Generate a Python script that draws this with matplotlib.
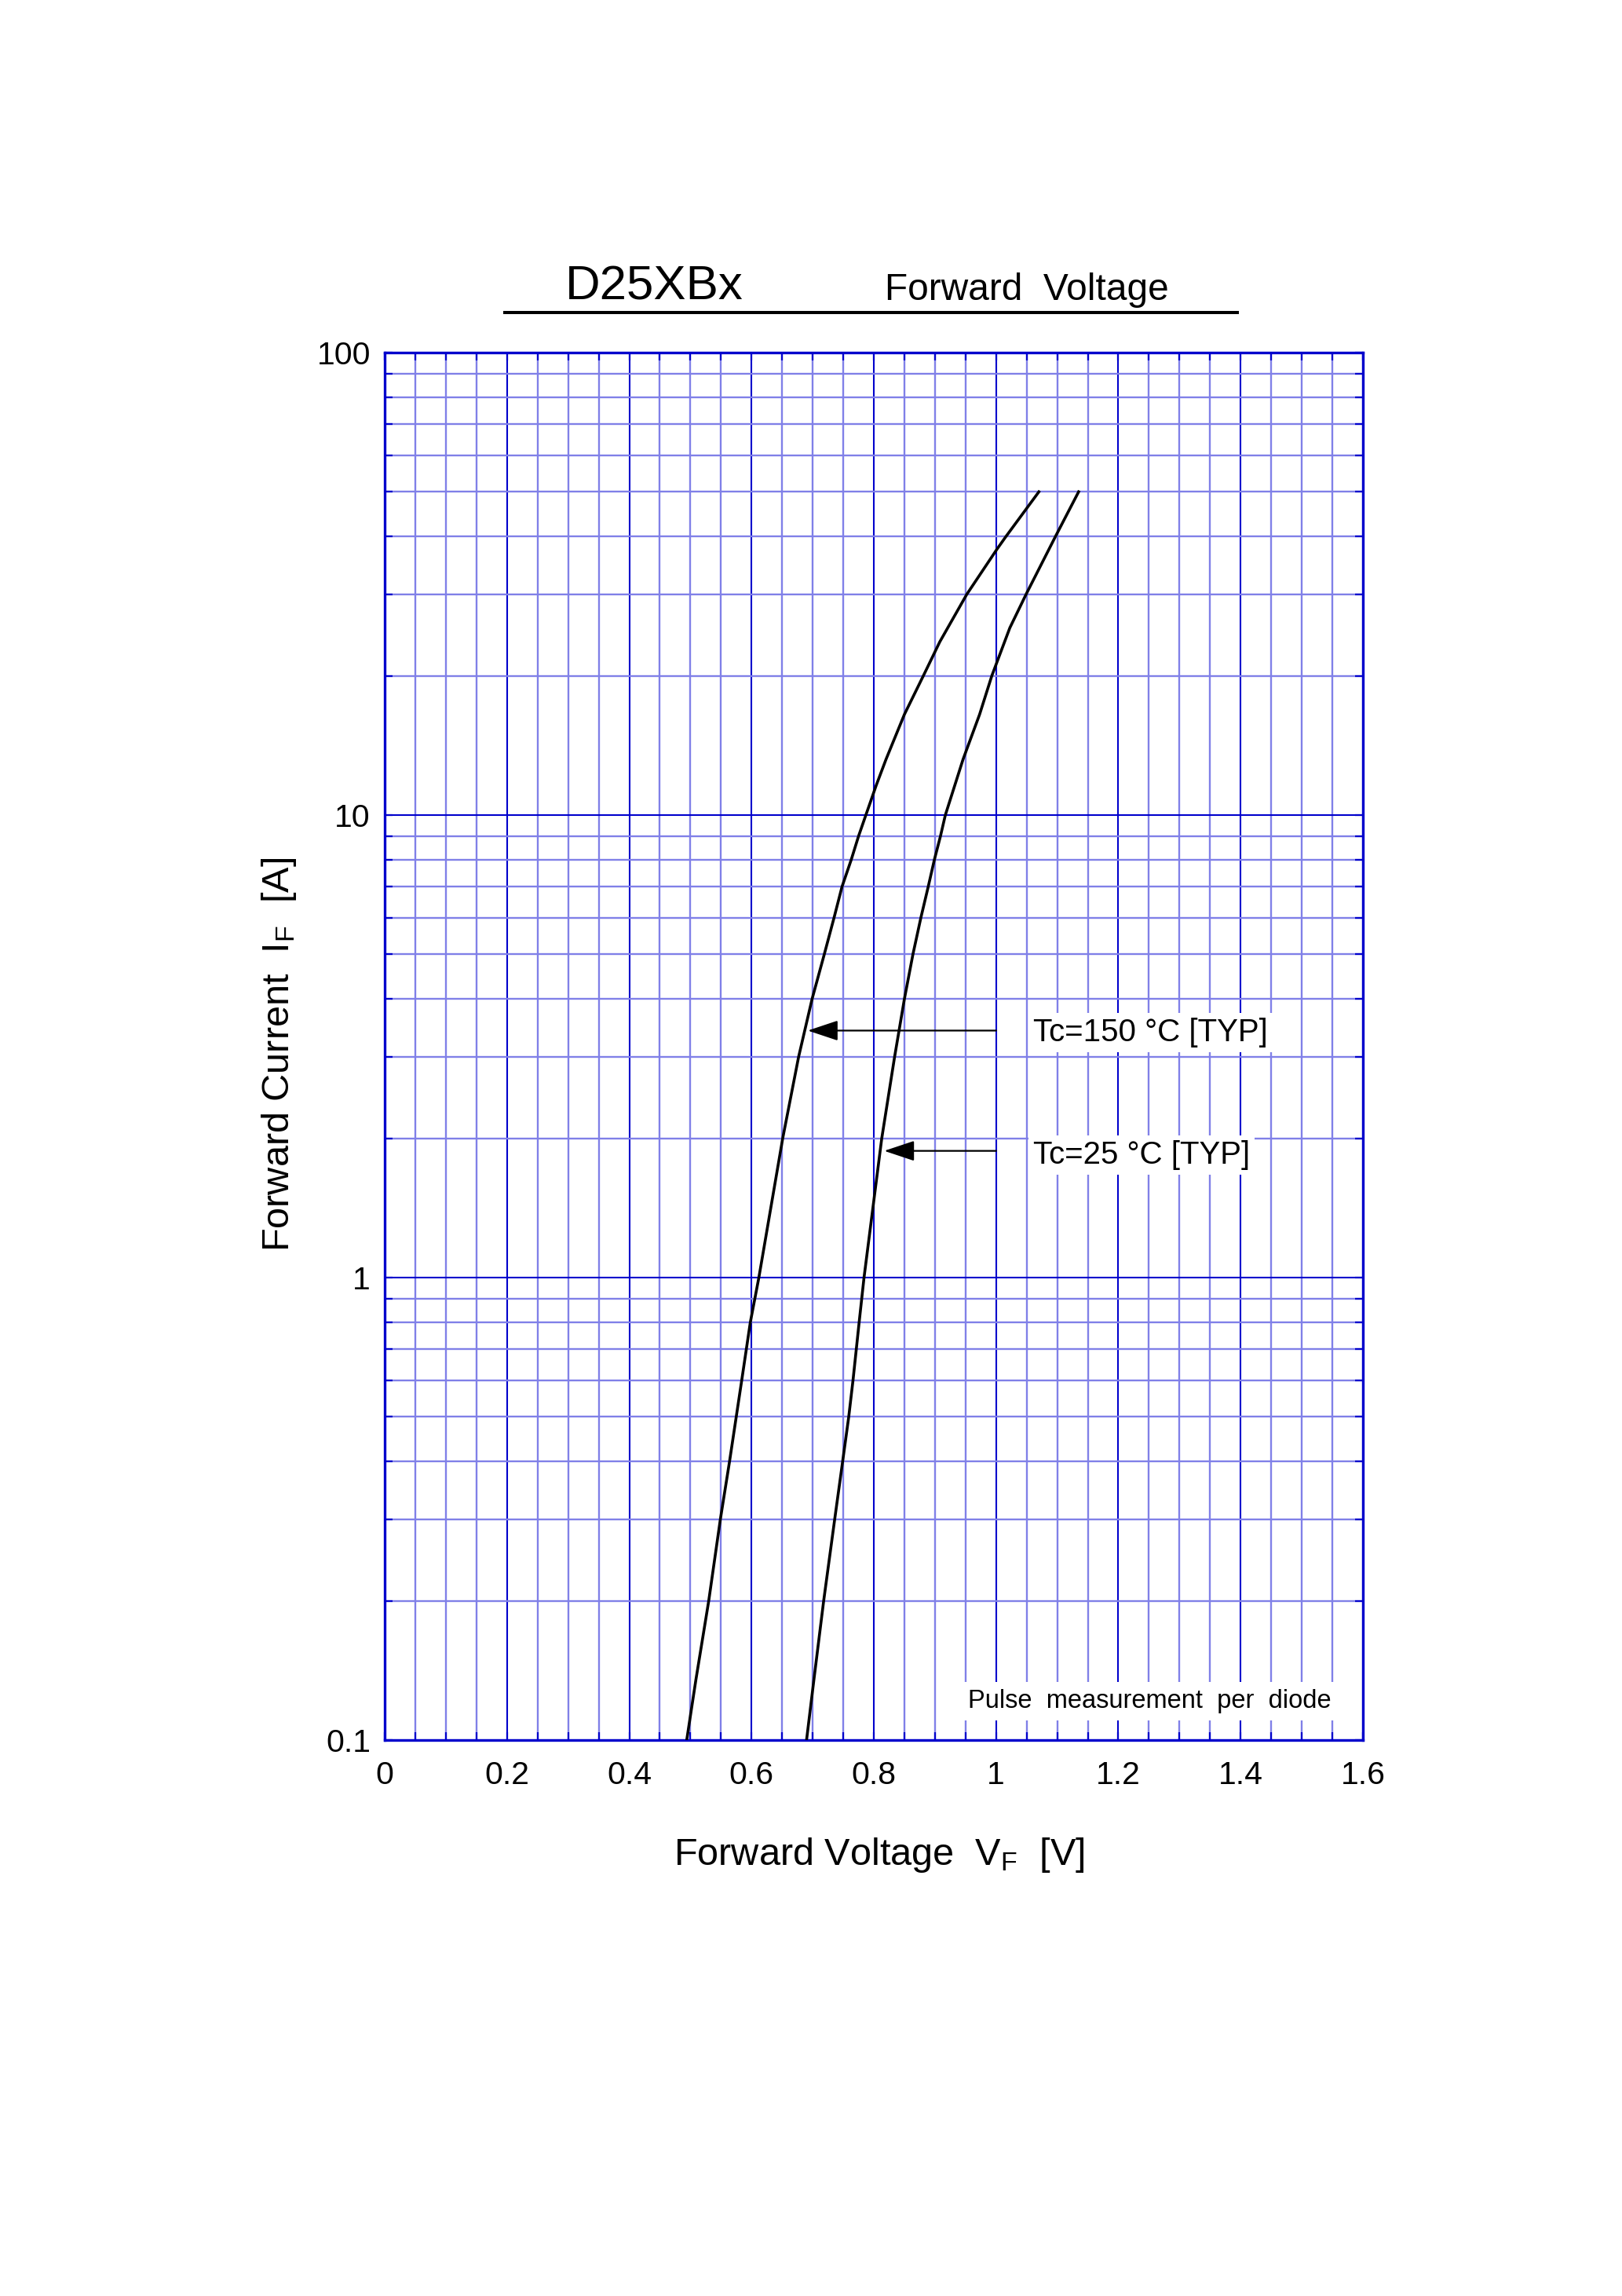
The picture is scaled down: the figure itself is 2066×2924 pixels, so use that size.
import matplotlib
matplotlib.use("Agg")
import matplotlib.pyplot as plt
from matplotlib.lines import Line2D
from matplotlib.ticker import FixedLocator, FixedFormatter, NullFormatter
import numpy as np

plt.rcParams['font.family'] = ['Liberation Sans', 'DejaVu Sans']
plt.rcParams['mathtext.fontset'] = 'custom'
plt.rcParams['mathtext.rm'] = 'Liberation Sans'
plt.rcParams['mathtext.it'] = 'Liberation Sans'

# ---------------- data ----------------
# Tc = 150 degC  (forward current A, forward voltage V)
i_150 = [0.1, 0.135, 0.2, 0.3, 0.4, 0.5, 0.6, 0.8, 1.0, 2.0, 3.0, 4.0, 5.0, 6.0,
         7.0, 8.0, 9.0, 10.0, 11.6, 13.2, 16.5, 20.0, 23.7, 30.0, 37.5, 40.0, 50.0]
v_150 = [0.494, 0.509, 0.530, 0.549, 0.564, 0.575, 0.584, 0.598, 0.612, 0.651, 0.677,
         0.699, 0.719, 0.735, 0.748, 0.763, 0.775, 0.787, 0.804, 0.820, 0.850, 0.881,
         0.908, 0.952, 1.001, 1.016, 1.070]
# Tc = 25 degC
i_25 = [0.1, 0.135, 0.2, 0.3, 0.4, 0.5, 0.6, 0.8, 1.0, 2.0, 3.0, 4.0, 5.0, 6.0,
        7.0, 8.0, 9.0, 10.0, 13.2, 16.5, 20.0, 25.4, 30.0, 40.0, 50.0]
v_25 = [0.690, 0.702, 0.718, 0.736, 0.749, 0.759, 0.766, 0.776, 0.784, 0.813, 0.834,
        0.850, 0.864, 0.877, 0.889, 0.899, 0.909, 0.917, 0.946, 0.973, 0.993, 1.0225,
        1.049, 1.097, 1.135]

x_major = [0, 0.2, 0.4, 0.6, 0.8, 1.0, 1.2, 1.4, 1.6]
x_labels = ['0', '0.2', '0.4', '0.6', '0.8', '1', '1.2', '1.4', '1.6']
x_minor = [k * 0.05 for k in range(33)]
y_major = [0.1, 1, 10, 100]
y_labels = ['0.1', '1', '10', '100']
y_minor = [m * d for d in (0.1, 1, 10) for m in range(2, 10)]

# annotations: (text, arrow start V, arrow tip V, arrow I, text V, text baseline I)
ann_texts = ['Tc=150 °C [TYP]', 'Tc=25 °C [TYP]']
ann_start_v = [1.0, 1.0]
ann_tip_v = [0.692, 0.817]
ann_i = [3.42, 1.879]
ann_text_v = [1.061, 1.061]
ann_text_i = [3.24, 1.763]

title_main = 'D25XBx'
title_sub = 'Forward  Voltage'
note = 'Pulse  measurement  per  diode'

# ---------------- styling ----------------
DARK = '#0000CC'
LIGHT = '#8080E8'

fig = plt.figure(figsize=(20.66, 29.24), dpi=100)
ax = fig.add_axes([490 / 2066, 1 - 2216 / 2924, 1246 / 2066, 1767 / 2924])

ax.set_yscale('log')
ax.set_xlim(0, 1.6)
ax.set_ylim(0.1, 100)

ax.xaxis.set_major_locator(FixedLocator(x_major))
ax.xaxis.set_major_formatter(FixedFormatter(x_labels))
ax.xaxis.set_minor_locator(FixedLocator(x_minor))
ax.xaxis.set_minor_formatter(NullFormatter())
ax.yaxis.set_major_locator(FixedLocator(y_major))
ax.yaxis.set_major_formatter(FixedFormatter(y_labels))
ax.yaxis.set_minor_locator(FixedLocator(y_minor))
ax.yaxis.set_minor_formatter(NullFormatter())

ax.set_axisbelow(True)
ax.grid(which='minor', color=LIGHT, linewidth=1.7, zorder=0)
ax.grid(which='major', color=DARK, linewidth=1.5, zorder=0.5)

for s in ax.spines.values():
    s.set_color(DARK)
    s.set_linewidth(2.4)

ax.tick_params(which='both', direction='in', top=True, right=True,
               color=DARK, length=7.5, width=1.6)
ax.tick_params(axis='x', which='major', pad=18.5, labelsize=29.5)
ax.tick_params(axis='y', which='major', pad=13, labelsize=29.5)

ax.plot(v_150, i_150, color='black', linewidth=2.6, zorder=3,
        solid_joinstyle='round')
ax.plot(v_25, i_25, color='black', linewidth=2.6, zorder=3,
        solid_joinstyle='round')

for txt, vs, vt, ii, tv, ti in zip(ann_texts, ann_start_v, ann_tip_v, ann_i,
                                    ann_text_v, ann_text_i):
    ax.annotate('', xy=(vt, ii), xytext=(vs, ii),
                arrowprops=dict(arrowstyle='-|>,head_length=24,head_width=8',
                                mutation_scale=1, color='black', linewidth=1.6,
                                shrinkA=0, shrinkB=0), zorder=4)
    ax.text(tv, ti, txt, fontsize=29, ha='left', va='baseline', zorder=4,
            bbox=dict(boxstyle='square,pad=0.15', facecolor='white', edgecolor='none'))

ax.text(1.548, 0.1175, note, fontsize=23.5, ha='right', va='baseline', zorder=4,
        bbox=dict(boxstyle='square,pad=0.28', facecolor='white', edgecolor='none'))

# titles
fig.text(720 / 2066, 1 - 382 / 2924, title_main, fontsize=44.5, ha='left', va='baseline')
fig.text(1127 / 2066, 1 - 382 / 2924, title_sub, fontsize=34.5, ha='left', va='baseline')
fig.add_artist(Line2D([643 / 2066, 1576 / 2066], [1 - 398 / 2924, 1 - 398 / 2924],
                      color='black', linewidth=2.9, transform=fig.transFigure))

# axis labels
fig.text(1120 / 2066, 1 - 2375 / 2924, 'Forward Voltage  $\\mathregular{V_F}$  [V]',
         fontsize=35, ha='center', va='baseline')
fig.text(355 / 2066, 1 - 1343 / 2924, 'Forward Current  $\\mathregular{I_F}$  [A]',
         fontsize=35, ha='center', va='center', rotation=90)

fig.savefig('out.png', dpi=100)
